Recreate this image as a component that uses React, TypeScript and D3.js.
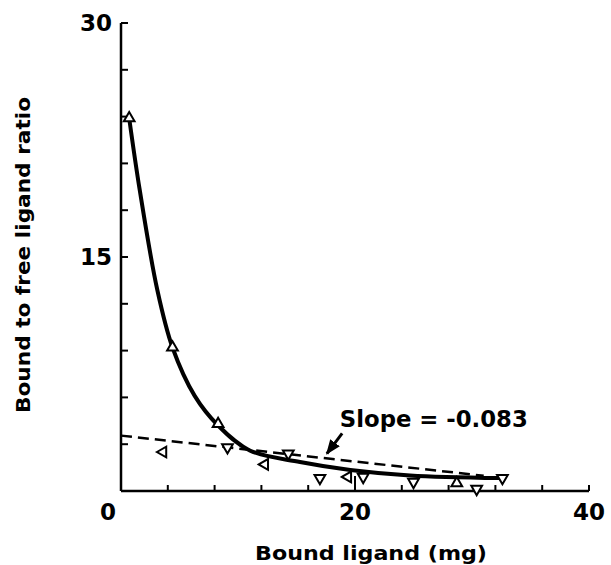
import React from 'react';
import * as d3 from 'd3';

// measured points (bound ligand, B/F ratio) and which way each triangle points
const boundX = [0.7, 4.4, 8.3, 3.6, 9.1, 12.3, 14.3, 17.0, 19.4, 20.7, 25.0, 28.7, 30.4, 32.6];
const ratioY = [23.9, 9.2, 4.3, 2.5, 2.8, 1.7, 2.4, 0.83, 0.9, 0.9, 0.58, 0.5, 0.13, 0.83];
const pointDir = ['up', 'up', 'up', 'left', 'down', 'left', 'down', 'down', 'left', 'down', 'down', 'up', 'down', 'down'];

// fitted curve
const curveX = [0.7, 1.6, 3.1, 4.4, 6.3, 8.3, 11.0, 15.3, 19.6, 24.7, 32.4];
const curveY = [23.9, 19.3, 12.9, 9.2, 6.1, 4.2, 2.6, 1.86, 1.35, 1.0, 0.83];

// linear fit, slope -0.083
const fitX = [0, 31];
const fitY = [3.55, 3.55 - 0.083 * 31];

const xTicks = d3.range(0, 41, 4);
const yTicks = d3.range(0, 31, 3);
const xLabels = [0, 20, 40];
const yLabels = [15, 30];

const rot = { up: 0, down: 180, left: -90, right: 90 };

const App = () => {
  const width = 611;
  const height = 565;

  const x = d3.scaleLinear().domain([0, 40]).range([121, 589]);
  const y = d3.scaleLinear().domain([0, 30]).range([491, 23]);

  const curve = d3.line<number>()
    .x((d, i) => x(curveX[i]))
    .y((d, i) => y(curveY[i]))
    .curve(d3.curveCatmullRom.alpha(0.5));

  const fit = d3.line<number>()
    .x((d, i) => x(fitX[i]))
    .y((d, i) => y(fitY[i]));

  const tri = d3.symbol().type(d3.symbolTriangle).size(50)();

  const font = '"DejaVu Sans", "Liberation Sans", sans-serif';

  return (
    <svg width={width} height={height} style={{ position: 'absolute', left: 0, top: 0, background: '#fff' }}
      fontFamily={font} fontWeight="bold">
      <defs>
        <marker id="arr" viewBox="0 0 10 10" refX="9" refY="5" markerWidth="5" markerHeight="5" orient="auto">
          <path d="M0,1 L10,5 L0,9 z" fill="#000" />
        </marker>
      </defs>

      {/* axes */}
      <line x1={x(0)} x2={x(0)} y1={y(30)} y2={y(0)} stroke="#000" strokeWidth={2.5} />
      <line x1={x(0)} x2={x(40)} y1={y(0)} y2={y(0)} stroke="#000" strokeWidth={2.5} />
      {yTicks.map(t => (
        <line key={'yt' + t} x1={x(0)} x2={x(0) + 7} y1={y(t)} y2={y(t)} stroke="#000" strokeWidth={2} />
      ))}
      {xTicks.map(t => (
        <line key={'xt' + t} x1={x(t)} x2={x(t)} y1={y(0)} y2={y(0) - (t === 20 ? 15 : 6)} stroke="#000" strokeWidth={2} />
      ))}
      {yLabels.map(t => (
        <text key={'yl' + t} x={x(0) - 9} y={y(t)} dy="0.36em" textAnchor="end" fontSize={23}>{t}</text>
      ))}
      {xLabels.map(t => (
        <text key={'xl' + t} x={t === 0 ? x(t) - 13 : x(t)} y={y(0) + 29} textAnchor="middle" fontSize={23}>{t}</text>
      ))}

      <text x={371} y={560} textAnchor="middle" fontSize={20} textLength={232} lengthAdjust="spacingAndGlyphs">Bound ligand (mg)</text>
      <text transform="translate(30,255) rotate(-90)" textAnchor="middle" fontSize={20} textLength={316} lengthAdjust="spacingAndGlyphs">Bound to free ligand ratio</text>

      {/* fit line */}
      <path d={fit(fitX) || ''} fill="none" stroke="#000" strokeWidth={2.5} strokeDasharray="11,6" />

      {/* fitted curve */}
      <path d={curve(curveX) || ''} fill="none" stroke="#000" strokeWidth={4} strokeLinecap="round" />

      {boundX.map((v, i) => (
        <path key={'p' + i} d={tri || ''} fill="#fff" stroke="#000" strokeWidth={2}
          transform={`translate(${x(v)},${y(ratioY[i])}) rotate(${rot[pointDir[i]]})`} />
      ))}

      {/* annotation */}
      <text x={x(18.7)} y={y(4.1)} fontSize={23} textLength={188} lengthAdjust="spacingAndGlyphs">Slope = -0.083</text>
      <line x1={x(18.9)} y1={y(3.7)} x2={x(17.6)} y2={y(2.4)} stroke="#000" strokeWidth={3} markerEnd="url(#arr)" />
    </svg>
  );
};

export default App;
